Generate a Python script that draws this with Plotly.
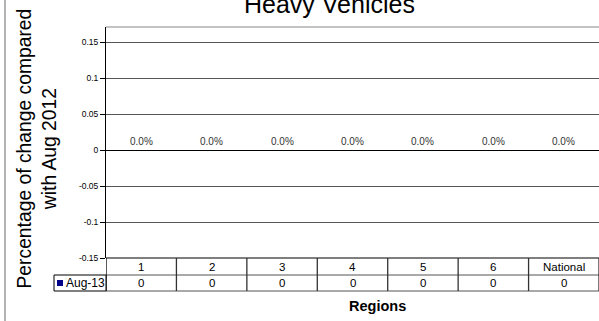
import plotly.graph_objects as go

categories = ["1", "2", "3", "4", "5", "6", "National"]
values_aug13 = [0, 0, 0, 0, 0, 0, 0]
series_name = "Aug-13"
tick_vals = [-0.15, -0.1, -0.05, 0, 0.05, 0.1, 0.15]
tick_text = ["-0.15", "-0.1", "-0.05", "0", "0.05", "0.1", "0.15"]

W, H = 599, 321
L, R, T, B = 106, 0, 27, 63
ph = H - T - B
pw = W - L - R
FONT = "Liberation Sans, Arial"

def py(pix):
    return (H - B - pix) / ph

def px(pix):
    return (pix - L) / pw

fig = go.Figure()
fig.add_trace(go.Bar(x=categories, y=values_aug13, name=series_name,
                     marker=dict(color="#00008B", line=dict(width=0)),
                     showlegend=False, hoverinfo="skip"))

shapes = []
annotations = []
row1_top, row1_bot, row2_bot = 258, 275, 291
for yp, col in [(row1_top, "#000"), (row1_bot, "#555"), (row2_bot, "#555")]:
    shapes.append(dict(type="line", xref="paper", yref="paper", x0=0, x1=1,
                       y0=py(yp), y1=py(yp), line=dict(color=col, width=1.2)))
n = len(categories)
for i in range(n + 1):
    shapes.append(dict(type="line", xref="x", yref="paper", x0=i - 0.5, x1=i - 0.5,
                       y0=py(row2_bot), y1=py(row1_top),
                       line=dict(color="#000" if i == 0 else "#333", width=1.3)))
shapes.append(dict(type="rect", xref="paper", yref="paper", x0=px(54), x1=0,
                   y0=py(row2_bot), y1=py(row1_bot), line=dict(color="#000", width=1)))
shapes.append(dict(type="rect", xref="paper", yref="paper", x0=px(57), x1=px(63),
                   y0=py(286), y1=py(280), fillcolor="#00008B", line=dict(width=0)))
shapes.append(dict(type="line", xref="paper", yref="paper", x0=px(5), x1=px(5),
                   y0=py(321), y1=py(0), line=dict(color="#666", width=1)))
shapes.append(dict(type="line", xref="paper", yref="paper", x0=0, x1=1,
                   y0=1, y1=1, line=dict(color="#888", width=1)))

for i, (c, v) in enumerate(zip(categories, values_aug13)):
    annotations.append(dict(x=i, xref="x", yref="paper", y=py((row1_top + row1_bot) / 2),
                            text=c, showarrow=False, yanchor="middle",
                            font=dict(family=FONT, size=11.5, color="#000")))
    annotations.append(dict(x=i, xref="x", yref="paper", y=py((row1_bot + row2_bot) / 2),
                            text=str(v), showarrow=False, yanchor="middle",
                            font=dict(family=FONT, size=11.5, color="#000")))
    annotations.append(dict(x=i, xref="x", yref="y", y=v, yshift=9,
                            text=f"{v:.1%}", showarrow=False, yanchor="middle",
                            font=dict(family=FONT, size=10, color="#333")))
annotations.append(dict(x=px(63.5), xref="paper", yref="paper", y=py((row1_bot + row2_bot) / 2),
                        text=series_name, showarrow=False, xanchor="left", yanchor="middle",
                        font=dict(family=FONT, size=12, color="#000")))
annotations.append(dict(x=px(377), xref="paper", yref="paper", y=py(306),
                        text="<b>Regions</b>", showarrow=False, yanchor="middle",
                        font=dict(family=FONT, size=14.5, color="#000")))
annotations.append(dict(x=px(36.5), xref="paper", yref="paper", y=py(149),
                        text="Percentage of change compared<br>with Aug 2012", showarrow=False,
                        textangle=-90, xanchor="center", yanchor="middle",
                        font=dict(family=FONT, size=19.3, color="#000")))
annotations.append(dict(x=px(329), xref="paper", yref="paper", y=py(4),
                        text="Heavy Vehicles", showarrow=False, yanchor="middle",
                        font=dict(family=FONT, size=25, color="#000")))

y_top = -0.15 + (ph / 36) * 0.05

fig.update_layout(
    width=W, height=H,
    margin=dict(l=L, r=R, t=T, b=B, autoexpand=False),
    paper_bgcolor="white", plot_bgcolor="white",
    shapes=shapes, annotations=annotations,
    bargap=0.5,
    xaxis=dict(type="category", range=[-0.5, n - 0.5], showticklabels=False, showgrid=False,
               zeroline=False, showline=False, ticks=""),
    yaxis=dict(range=[-0.15, y_top],
               tickvals=tick_vals, ticktext=tick_text,
               showgrid=True, gridcolor="#555", gridwidth=1,
               zeroline=True, zerolinecolor="#000", zerolinewidth=1,
               showline=True, linecolor="#000", linewidth=1,
               ticks="outside", ticklen=5, tickcolor="#000",
               tickfont=dict(family=FONT, size=8.5, color="#000")),
)

fig.write_html("out.html", config={"displayModeBar": False},
               post_script="document.body.style.margin='0';")
